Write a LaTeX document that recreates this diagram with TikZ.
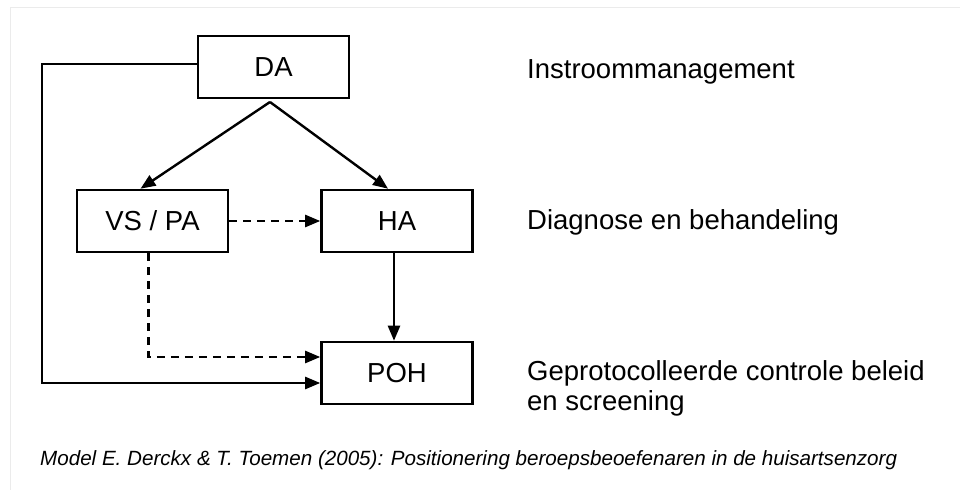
\documentclass[tikz,border=0pt]{standalone}
\usepackage{fontspec}
\setmainfont{Liberation Sans}
\usetikzlibrary{arrows.meta}
\begin{document}
\begin{tikzpicture}[x=1pt, y=-1pt,
  box/.style={draw, line width=2.6pt, minimum width=151pt, minimum height=62pt, inner sep=0pt,
    font=\fontsize{27.5}{32}\selectfont},
  lbl/.style={anchor=west, align=left, inner sep=0pt, font=\fontsize{27.5}{30}\selectfont},
  arr/.style={line width=2.4pt, -{Triangle[length=15pt, width=12pt]}},
  darr/.style={arr, dash pattern=on 8pt off 6pt}]
\useasboundingbox (0,0) rectangle (960,490);
\draw[black!8, line width=1pt] (10,490) -- (10,7) -- (960,7);
\node[box] (da) at (273.5,67){DA};
\node[box] (vspa) at (152.5,221){VS / PA};
\node[box] (ha) at (397,221){HA};
\node[box] (poh) at (397,373){POH};
\coordinate (split) at (270,102);
\coordinate (bend) at (42,70);
\draw[arr] (split) -- ([xshift=-12pt]vspa.north);
\draw[arr] (split) -- ([xshift=-9pt]ha.north);
\draw[darr] (vspa.east) -- (ha.west);
\draw[arr] ([xshift=-3pt]ha.south) -- ([xshift=-3pt]poh.north);
\draw[darr] ([xshift=-4pt]vspa.south) |- ([yshift=16pt]poh.west);
\draw[arr] ([yshift=3pt]da.west) -| (bend) |- ([yshift=-10pt]poh.west);
\node[lbl] (instroom) at (527,72){Instroommanagement};
\node[lbl] (diagnose) at (527,222){Diagnose en behandeling};
\node[lbl] (controle) at (527,388){Geprotocolleerde controle beleid\\en screening};
\node[anchor=west, inner sep=0pt, font=\fontsize{20.6}{24}\selectfont\itshape] (bron) at (40,460)
  {Model E. Derckx \& T. Toemen (2005): Positionering beroepsbeoefenaren in de huisartsenzorg};
\end{tikzpicture}
\end{document}
